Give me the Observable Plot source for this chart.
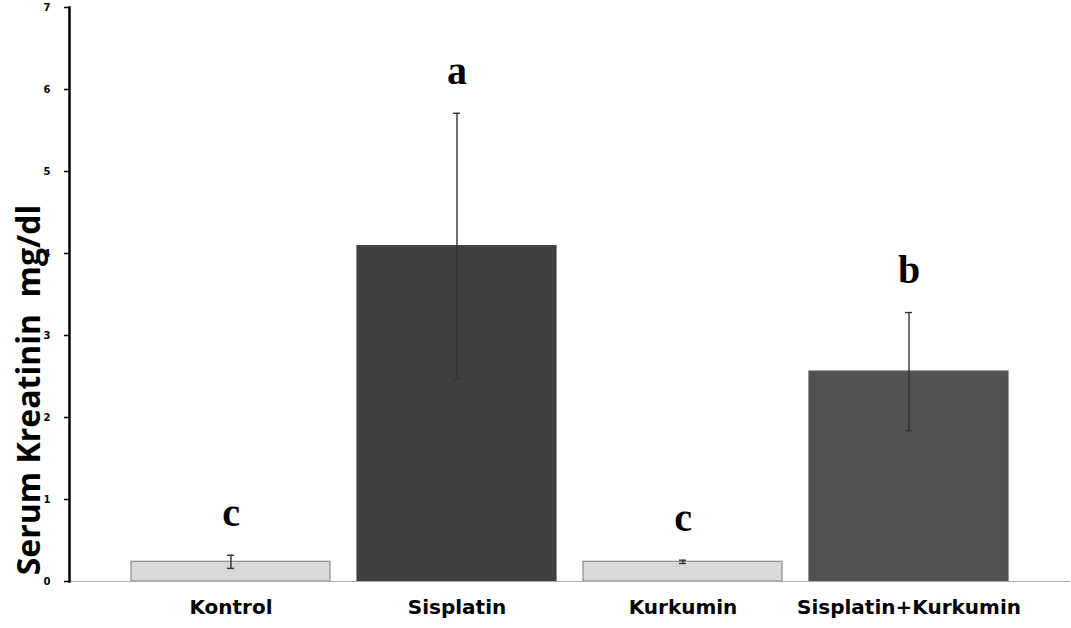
<!DOCTYPE html>
<html>
<head>
<meta charset="utf-8">
<script src="https://cdn.jsdelivr.net/npm/d3@7"></script>
<script src="https://cdn.jsdelivr.net/npm/@observablehq/plot@0.6"></script>
<style>
  html, body { margin: 0; padding: 0; background: #fff; }
  #chart svg { display: block; }
</style>
</head>
<body>
<div id="chart"></div>
<script>
const groups = ["Kontrol", "Sisplatin", "Kurkumin", "Sisplatin+Kurkumin"];
const means = [0.24, 4.09, 0.24, 2.56];
const sds = [0.08, 1.62, 0.02, 0.72];
const letters = ["c", "a", "c", "b"];
const fills = ["#d9d9d9", "#404040", "#d9d9d9", "#525252"];
const yTicks = [0, 1, 2, 3, 4, 5, 6, 7];

const data = groups.map((g, i) => ({
  group: g, mean: means[i], lo: means[i] - sds[i], hi: means[i] + sds[i],
  letter: letters[i], fill: fills[i]
}));

const chart = Plot.plot({
  width: 1071,
  height: 628,
  marginLeft: 69,
  marginRight: 1,
  marginTop: 7,
  marginBottom: 47,
  style: { background: "#fff" },
  x: { domain: groups, paddingInner: 0.12, paddingOuter: 0.274, label: null },
  y: { domain: [0, 7], label: null },
  marks: [
    Plot.barY(data, { x: "group", y: "mean", fill: "fill", stroke: d => d.fill === "#d9d9d9" ? "#8c8c8c" : d.fill, strokeWidth: 1.2 }),
    Plot.ruleY([0], { stroke: "#aaaaaa", strokeWidth: 1.2 }),
    Plot.ruleX(data, { x: "group", y1: "lo", y2: "hi", stroke: "#333", strokeWidth: 1.4 }),
    Plot.tickY(data, { x: "group", y: "hi", stroke: "#333", strokeWidth: 1.4, insetLeft: 96, insetRight: 96 }),
    Plot.tickY(data, { x: "group", y: "lo", stroke: "#333", strokeWidth: 1.4, insetLeft: 96, insetRight: 96 }),
    Plot.text(data, { x: "group", y: "hi", text: "letter", dy: -42, fontFamily: "Liberation Serif", fontWeight: "bold", fontSize: 40, fill: "#000" }),
    Plot.frame({ anchor: "left", stroke: "#000", strokeWidth: 2.5 }),
    Plot.axisY({ ticks: yTicks, tickFormat: d3.format("d"), tickSize: 5, tickPadding: 14, stroke: "#000", strokeWidth: 1.5, fontSize: 10, fontWeight: "bold", fontFamily: "DejaVu Sans", label: null }),
    Plot.axisX({ tickSize: 0, tickPadding: 18, fontSize: 20, fontWeight: "bold", fontFamily: "DejaVu Sans", label: null })
  ]
});

// y-axis title
const svg = d3.select(chart);
svg.append("text")
  .attr("transform", "translate(31,390) rotate(-90)")
  .attr("text-anchor", "middle")
  .attr("font-family", "Liberation Sans Narrow, Open Sans, sans-serif")
  .attr("font-weight", "bold")
  .attr("font-size", 32)
  .attr("fill", "#000")
  .attr("dominant-baseline", "middle")
  .attr("xml:space", "preserve")
  .text("Serum Kreatinin  mg/dl");

document.getElementById("chart").appendChild(chart);
</script>
</body>
</html>
